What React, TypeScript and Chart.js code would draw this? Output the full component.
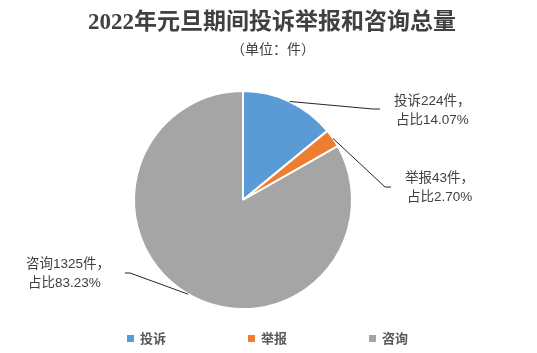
import React, { useEffect, useRef } from 'react';
import { Chart, registerables } from 'chart.js';
Chart.register(...registerables);

const categories = ['投诉', '举报', '咨询'];
const counts = [224, 43, 1325];
const percents = ['14.07%', '2.70%', '83.23%'];
const colors = ['#5B9BD5', '#ED7D31', '#A5A5A5'];
const titleText = '2022年元旦期间投诉举报和咨询总量';
const subtitleText = '（单位：件）';

// label layout: elbow point, line end, text x, first text middle y
const labelLayout = [
  { elbow: [373, 109], end: [380, 109], tx: 394, ty: 101 },
  { elbow: [385, 187], end: [391, 187], tx: 405, ty: 178 },
  { elbow: [130, 273], end: [125, 273], tx: 26, ty: 264 },
];

const labelFont = '13.5px "Liberation Sans", "Noto Sans CJK SC", sans-serif';

const drawPlugin = {
  id: 'customText',
  afterDraw(chart: any) {
    const ctx = chart.ctx as CanvasRenderingContext2D;
    ctx.save();
    // title
    ctx.fillStyle = '#404040';
    ctx.textAlign = 'center';
    ctx.textBaseline = 'middle';
    ctx.font = 'bold 23px "Liberation Serif", "Noto Sans CJK SC", serif';
    ctx.fillText(titleText, 272, 23);
    ctx.font = '14px "Liberation Sans", "Noto Sans CJK SC", sans-serif';
    ctx.fillText(subtitleText, 273, 50);

    // data labels with leader lines
    const meta = chart.getDatasetMeta(0);
    meta.data.forEach((arc: any, i: number) => {
      const p = arc.getProps(['x', 'y', 'startAngle', 'endAngle', 'outerRadius'], true);
      const mid = (p.startAngle + p.endAngle) / 2;
      const sx = p.x + Math.cos(mid) * p.outerRadius;
      const sy = p.y + Math.sin(mid) * p.outerRadius;
      const L = labelLayout[i];
      ctx.strokeStyle = '#262626';
      ctx.lineWidth = 1;
      ctx.beginPath();
      ctx.moveTo(sx, sy);
      ctx.lineTo(L.elbow[0], L.elbow[1]);
      ctx.lineTo(L.end[0], L.end[1]);
      ctx.stroke();
      ctx.fillStyle = '#404040';
      ctx.textAlign = 'left';
      ctx.textBaseline = 'middle';
      ctx.font = labelFont;
      ctx.fillText(`${categories[i]}${counts[i]}件，`, L.tx, L.ty);
      ctx.fillText(`占比${percents[i]}`, L.tx + 2, L.ty + 19);
    });

    // legend
    ctx.font = 'bold 13px "Noto Sans CJK SC", sans-serif';
    ctx.textBaseline = 'middle';
    ctx.textAlign = 'left';
    categories.forEach((c, i) => {
      const x = 127 + i * 121;
      ctx.fillStyle = colors[i];
      ctx.fillRect(x, 335, 7, 7);
      ctx.fillStyle = '#595959';
      ctx.fillText(c, x + 13, 338.5);
    });
    ctx.restore();
  },
};

export default function App() {
  const ref = useRef<HTMLCanvasElement>(null);
  useEffect(() => {
    document.body.style.margin = '0';
    const chart = new Chart(ref.current!, {
      type: 'pie',
      data: {
        labels: categories,
        datasets: [
          {
            data: counts,
            backgroundColor: colors,
            borderColor: '#FFFFFF',
            borderWidth: 2,
          },
        ],
      },
      options: {
        responsive: false,
        animation: false,
        layout: { padding: { left: 133, right: 184, top: 90, bottom: 43 } },
        plugins: {
          legend: { display: false },
          title: { display: false },
          tooltip: { enabled: false },
        },
      },
      plugins: [drawPlugin],
    });
    return () => chart.destroy();
  }, []);
  return (
    <div style={{ width: 537, height: 353, background: '#fff' }}>
      <canvas ref={ref} width={537} height={353} style={{ display: 'block' }} />
    </div>
  );
}
